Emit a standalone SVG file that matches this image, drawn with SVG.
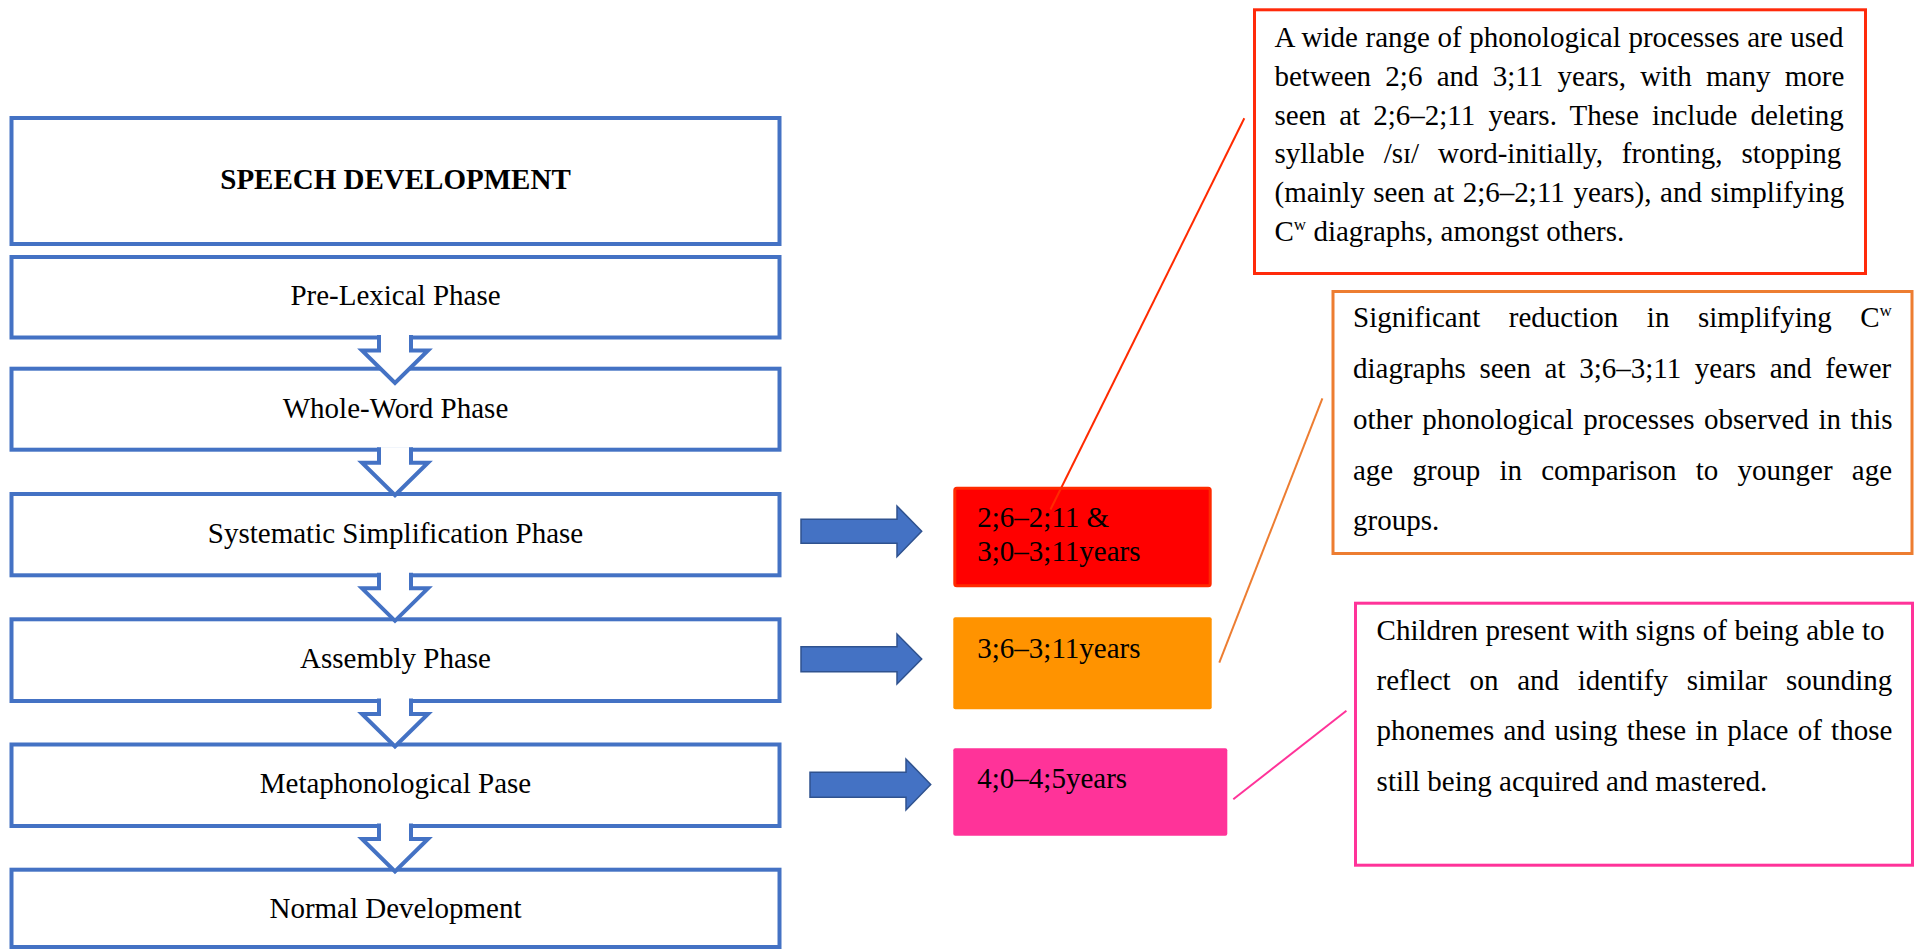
<svg xmlns="http://www.w3.org/2000/svg" width="1916" height="950" viewBox="0 0 1916 950">
<style>
.box{fill:#ffffff;stroke:#4472C4;stroke-width:4}
.t{font-family:"Liberation Serif","Times New Roman",serif;font-size:29px;fill:#000}
.c{text-anchor:middle}
.b{font-weight:bold}
.down{fill:#ffffff;stroke:#4472C4;stroke-width:4;stroke-linejoin:miter}
.right{fill:#4472C4;stroke:#2F528F;stroke-width:1.5}
.sup{font-size:17px}
</style>
<rect width="1916" height="950" fill="#ffffff"/>
<g id="nodes">
<g id="title"><rect class="box" x="11.5" y="118" width="768" height="126"/><text class="t c b" x="395.5" y="189.3">SPEECH DEVELOPMENT</text></g>
<g id="prelexical"><rect class="box" x="11.5" y="257" width="768" height="80.5"/><text class="t c" x="395.5" y="305">Pre-Lexical Phase</text></g>
<g id="wholeword"><rect class="box" x="11.5" y="368.7" width="768" height="81"/><text class="t c" x="395.5" y="418.3">Whole-Word Phase</text></g>
<g id="systematic"><rect class="box" x="11.5" y="494" width="768" height="81.3"/><text class="t c" x="395.5" y="543.3">Systematic Simplification Phase</text></g>
<g id="assembly"><rect class="box" x="11.5" y="619.3" width="768" height="81.7"/><text class="t c" x="395.5" y="668.3">Assembly Phase</text></g>
<g id="metaphonological"><rect class="box" x="11.5" y="744.5" width="768" height="81.5"/><text class="t c" x="395.5" y="793.3">Metaphonological Pase</text></g>
<g id="normal"><rect class="box" x="11.5" y="869.7" width="768" height="77.3"/><text class="t c" x="395.5" y="918.3">Normal Development</text></g>
<g id="age1"><rect x="954.8" y="488.2" width="255.4" height="97.6" rx="2" fill="#FF0000" stroke="#FF2A00" stroke-width="3"/><text class="t" x="977.3" y="526.7">2;6–2;11 &amp;</text><text class="t" x="977.3" y="560.7">3;0–3;11years</text></g>
<g id="age2"><rect x="953.3" y="617.3" width="258.4" height="92" rx="2" fill="#FF9300"/><text class="t" x="977.3" y="658.3">3;6–3;11years</text></g>
<g id="age3"><rect x="953.3" y="748.3" width="274" height="87.4" rx="2" fill="#FF3399"/><text class="t" x="977.3" y="788.3">4;0–4;5years</text></g>
<g id="note1"><rect x="1254.5" y="9.8" width="611" height="263.7" fill="#ffffff" stroke="#FF2A0A" stroke-width="3"/>
<text class="t" x="1274.5" y="47" word-spacing="0.4">A wide range of phonological processes are used</text>
<text class="t" x="1274.5" y="85.8" word-spacing="7">between 2;6 and 3;11 years, with many more</text>
<text class="t" x="1274.5" y="124.6" word-spacing="5.9">seen at 2;6–2;11 years. These include deleting</text>
<text class="t" x="1274.5" y="163.4" word-spacing="11.7">syllable /sɪ/ word-initially, fronting, stopping</text>
<text class="t" x="1274.5" y="202.2" word-spacing="1.3">(mainly seen at 2;6–2;11 years), and simplifying</text>
<text class="t" x="1274.5" y="241">C<tspan class="sup" dy="-11">w</tspan><tspan dy="11"> diagraphs, amongst others.</tspan></text>
</g>
<g id="note2"><rect x="1333" y="291.5" width="579" height="262" fill="#ffffff" stroke="#ED7D31" stroke-width="3"/>
<text class="t" x="1353" y="327" word-spacing="21.3">Significant reduction in simplifying C<tspan class="sup" dy="-11">w</tspan></text>
<text class="t" x="1353" y="378" word-spacing="6.4">diagraphs seen at 3;6–3;11 years and fewer</text>
<text class="t" x="1353" y="428.8" word-spacing="2.4">other phonological processes observed in this</text>
<text class="t" x="1353" y="479.5" word-spacing="12">age group in comparison to younger age</text>
<text class="t" x="1353" y="530.3">groups.</text>
</g>
<g id="note3"><rect x="1355.5" y="603.2" width="557" height="262" fill="#ffffff" stroke="#FF3399" stroke-width="3"/>
<text class="t" x="1376.6" y="640" word-spacing="0.2">Children present with signs of being able to</text>
<text class="t" x="1376.6" y="690" word-spacing="11.5">reflect on and identify similar sounding</text>
<text class="t" x="1376.6" y="740" word-spacing="2">phonemes and using these in place of those</text>
<text class="t" x="1376.6" y="790.7">still being acquired and mastered.</text>
</g>
</g>
<g id="connectors">
<path class="down" d="M379,335 V350.5 H362 L395,383 L428,350.5 H411 V335"/>
<path class="down" d="M379,447.2 V462.7 H362 L395,495.2 L428,462.7 H411 V447.2"/>
<path class="down" d="M379,572.8 V588.3 H362 L395,620.8 L428,588.3 H411 V572.8"/>
<path class="down" d="M379,698.5 V714 H362 L395,746.5 L428,714 H411 V698.5"/>
<path class="down" d="M379,823.5 V839 H362 L395,871.5 L428,839 H411 V823.5"/>
<path class="right" d="M801,519.3 H897 V506 L921.7,531.3 L897,556.7 V543.3 H801 Z"/>
<path class="right" d="M801,646.7 H897 V634 L921.7,659 L897,684 V671.7 H801 Z"/>
<path class="right" d="M810,772.3 H906 V759 L930.7,784.5 L906,810 V797.3 H810 Z"/>
<line x1="1050.5" y1="509.5" x2="1244.3" y2="118.3" stroke="#FF2A00" stroke-width="2"/>
<line x1="1219.3" y1="662.7" x2="1322.4" y2="398.3" stroke="#ED7D31" stroke-width="2"/>
<line x1="1233.3" y1="799.3" x2="1346.4" y2="710.7" stroke="#FF3399" stroke-width="2"/>
</g>
</svg>
